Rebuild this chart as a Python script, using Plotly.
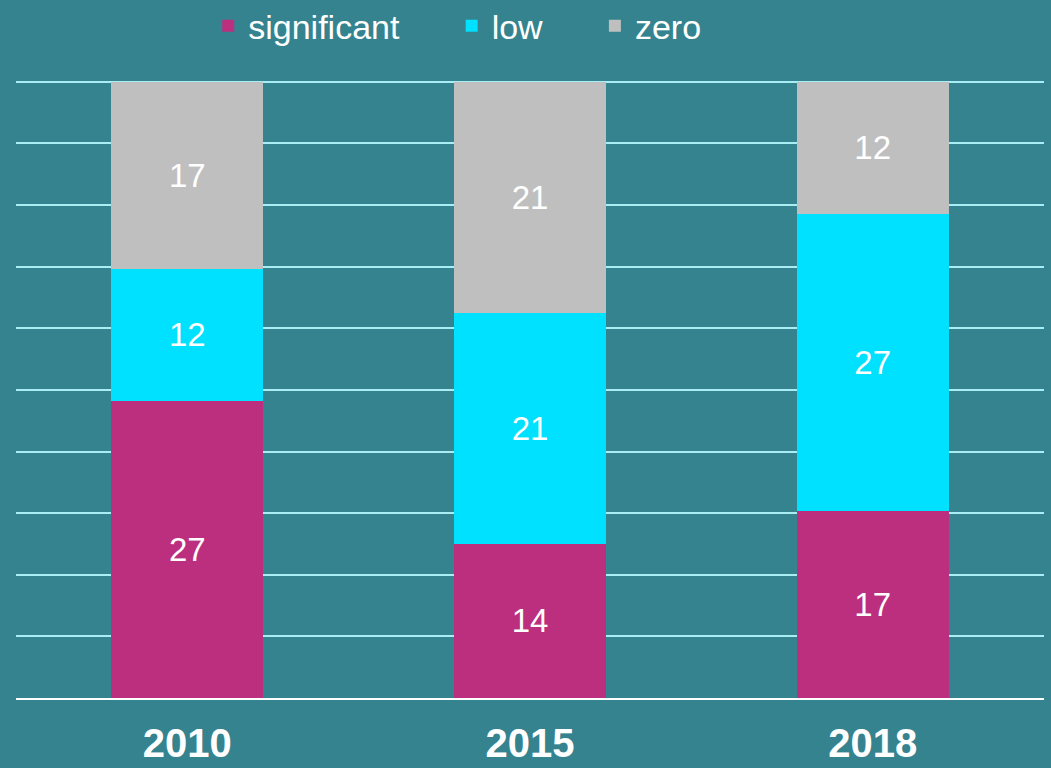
import plotly.graph_objects as go

years = ["2010", "2015", "2018"]
significant = [27, 14, 17]
low = [12, 21, 27]
zero = [17, 21, 12]

NBSP = "\u00a0"
series = [
    ("significant", significant, "#BC2F7F", 5),
    ("low", low, "#00E0FF", 5),
    ("zero", zero, "#BFBFBF", 0),
]

BG = "#34838F"
FONT = "Liberation Sans, Arial, sans-serif"

fig = go.Figure()
for name, vals, color, pad in series:
    fig.add_trace(go.Bar(
        x=years, y=vals, name=name + NBSP * pad,
        marker=dict(color=color, line=dict(width=0)),
        text=[str(v) for v in vals],
        textposition="inside",
        insidetextanchor="middle",
        textfont=dict(color="white", size=33, family=FONT),
        hoverinfo="skip",
    ))

fig.update_layout(
    barmode="stack",
    barnorm="percent",
    bargap=0.556,
    width=1051, height=768,
    paper_bgcolor=BG, plot_bgcolor=BG,
    margin=dict(l=16, r=7, t=80, b=70, autoexpand=False),
    font=dict(family=FONT, color="white"),
    showlegend=True,
    legend=dict(
        orientation="h",
        traceorder="normal",
        x=0.187, xanchor="left",
        y=0.966, yanchor="middle", yref="container",
        font=dict(size=34, color="white", family=FONT),
        bgcolor="rgba(0,0,0,0)",
        itemclick=False, itemdoubleclick=False,
        tracegroupgap=0,
    ),
)

fig.update_xaxes(
    showgrid=False,
    showline=True, linecolor="white", linewidth=2,
    tickfont=dict(size=40, color="white", family=FONT, weight="bold"),
    ticks="", ticklabelstandoff=9,
    automargin=False,
    fixedrange=True,
)
fig.update_yaxes(
    range=[0, 100.3], tick0=0, dtick=10,
    showgrid=True, gridcolor="#A9EEF5", gridwidth=2,
    showticklabels=False, zeroline=False,
    automargin=False,
    fixedrange=True,
)

fig.write_html(
    "out.html",
    config={"displayModeBar": False},
    post_script="document.body.style.margin='0';document.body.style.background='" + BG + "';",
)
